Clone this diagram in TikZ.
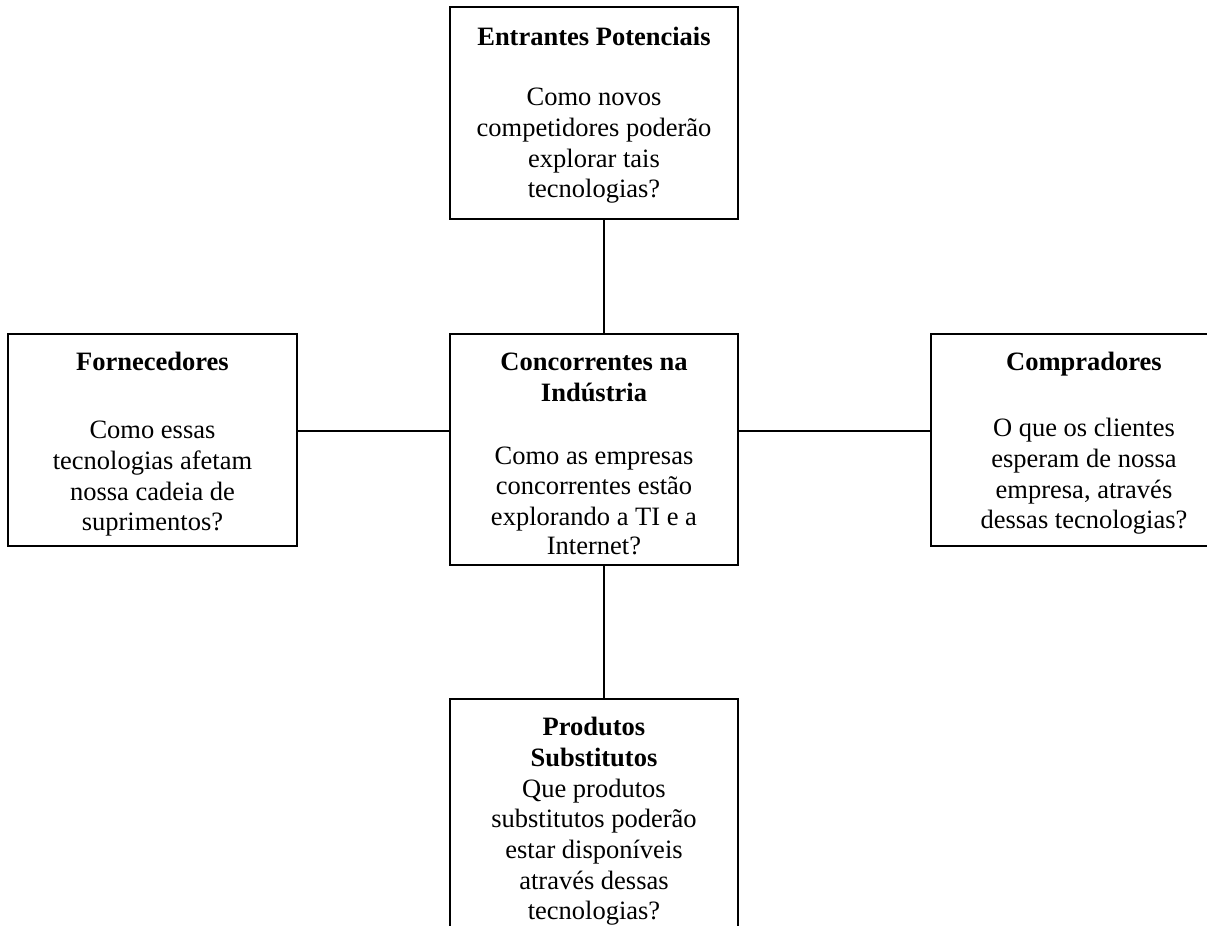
\documentclass[tikz,border=0pt]{standalone}
\usepackage{fontspec}
\setmainfont{Liberation Serif}
\usetikzlibrary{calc}
\begin{document}
\begin{tikzpicture}[x=0.5pt,y=-0.5pt,
  box/.style={draw, line width=0.8pt, inner sep=0pt},
  txt/.style={anchor=north, align=center, inner sep=0pt, font=\fontsize{13.25pt}{15.35pt}\selectfont},
  link/.style={line width=0.8pt}]
\useasboundingbox (0,0) rectangle (1207,926);
% boxes
\node[box, minimum width=144pt, minimum height=106pt] (ent) at (594,113) {};
\node[box, minimum width=144.5pt, minimum height=106pt] (forn) at (152.5,440) {};
\node[box, minimum width=144pt, minimum height=115.5pt] (conc) at (594,449.5) {};
\node[box, minimum width=153pt, minimum height=106pt] (comp) at (1084,440) {};
\node[box, minimum width=144pt, minimum height=130.5pt] (prod) at (594,829.5) {};
% texts
\node[txt] (entT) at ($(ent.north)+(0,15)$) {\rule{0pt}{12pt}\textbf{Entrantes Potenciais}\\[14.65pt]Como novos\\competidores poderão\\explorar tais\\tecnologias?};
\node[txt] (fornT) at ($(forn.north)+(0,13)$) {\rule{0pt}{12pt}\textbf{Fornecedores}\\[18.65pt]Como essas\\tecnologias afetam\\nossa cadeia de\\suprimentos?};
\node[txt] (concT) at ($(conc.north)+(0,13)$) {\rule{0pt}{12pt}\textbf{Concorrentes na}\\\textbf{Indústria}\\[16.4pt]Como as empresas\\[-0.3pt]concorrentes estão\\[-0.3pt]explorando a TI e a\\[-0.6pt]Internet?};
\node[txt] (compT) at ($(comp.north)+(0,13)$) {\rule{0pt}{12pt}\textbf{Compradores}\\[17.65pt]O que os clientes\\esperam de nossa\\empresa, através\\dessas tecnologias?};
\node[txt] (prodT) at ($(prod.north)+(0,13)$) {\rule{0pt}{12pt}\textbf{Produtos}\\\textbf{Substitutos}\\Que produtos\\substitutos poderão\\estar disponíveis\\através dessas\\tecnologias?};
% connectors
\coordinate (spine) at (604,0);
\coordinate (hline) at (0,431);
\draw[link] (ent.south -| spine) -- (conc.north -| spine);
\draw[link] (conc.south -| spine) -- (prod.north -| spine);
\draw[link] (forn.east |- hline) -- (conc.west |- hline);
\draw[link] (conc.east |- hline) -- (comp.west |- hline);
\end{tikzpicture}
\end{document}
